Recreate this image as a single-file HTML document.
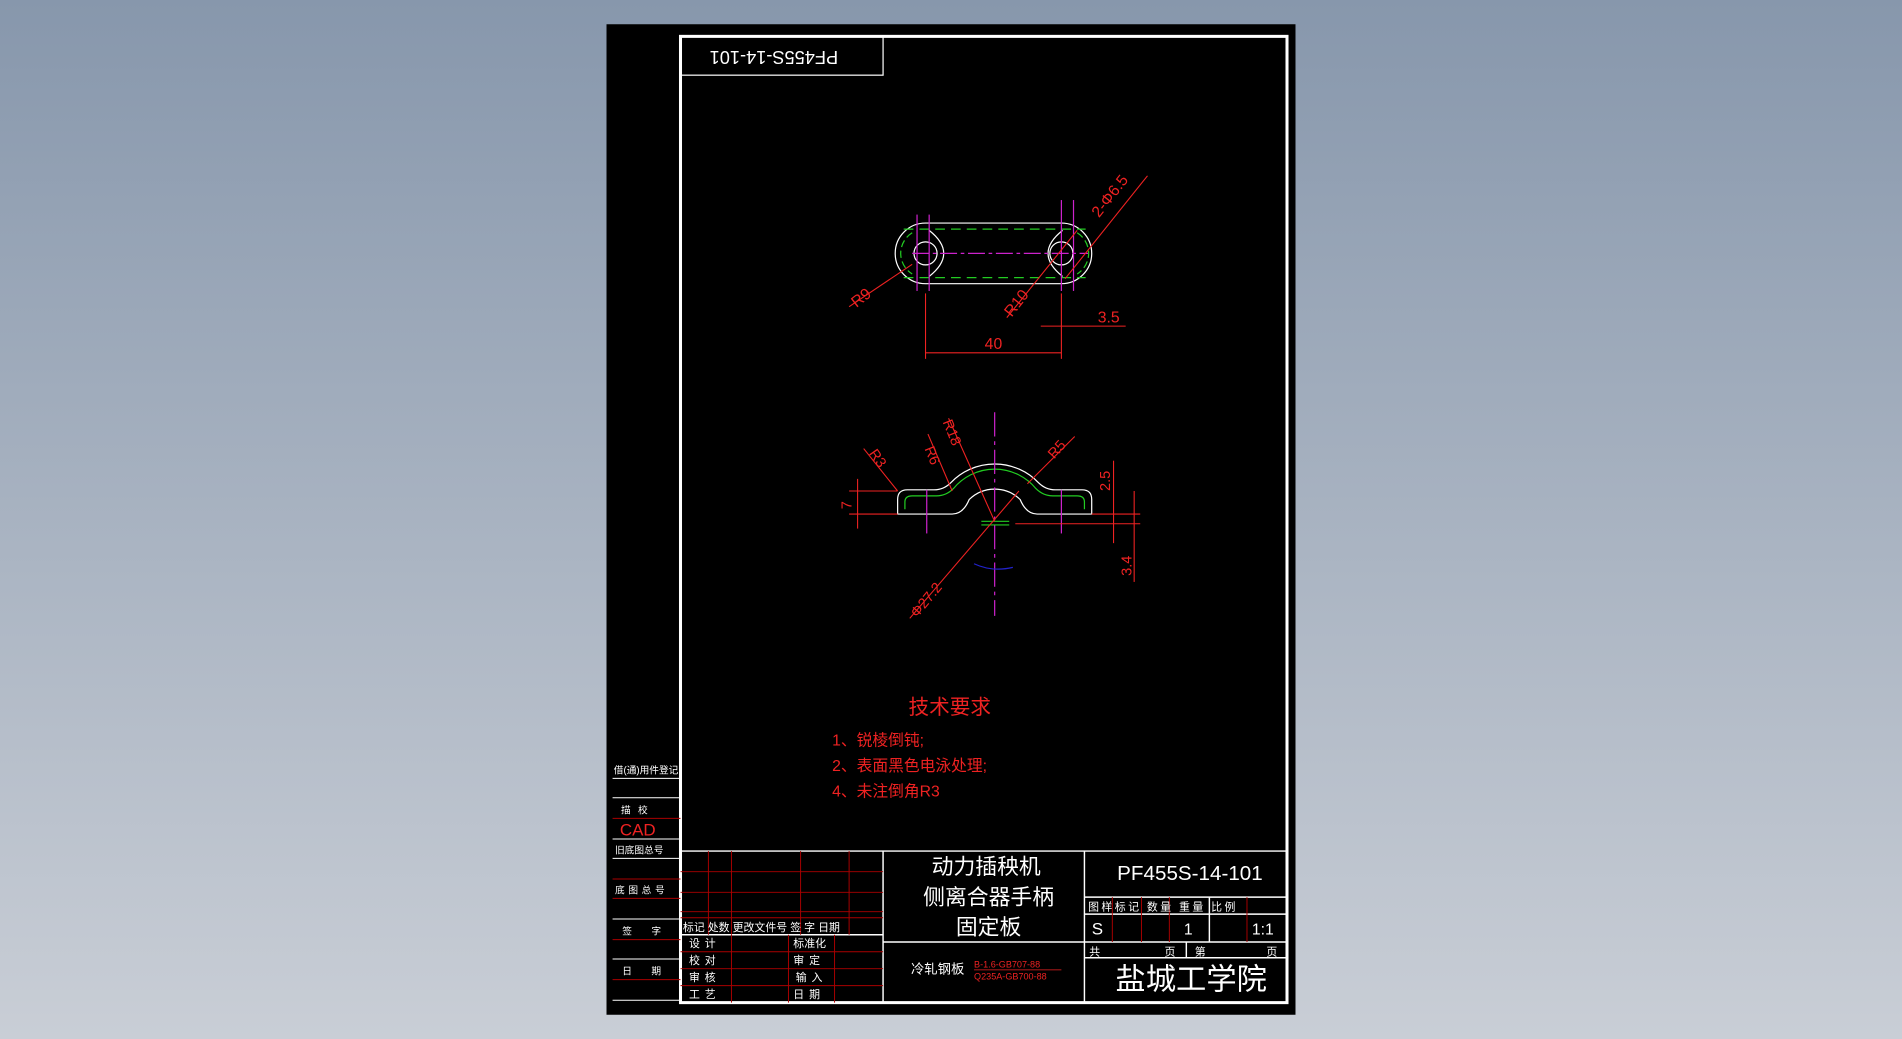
<!DOCTYPE html>
<html><head><meta charset="utf-8"><style>
html,body{margin:0;padding:0;width:1902px;height:1039px;overflow:hidden;background:linear-gradient(#8797ac,#c9ced6);}
svg{display:block}
text{font-family:"Liberation Sans","Noto Sans CJK SC",sans-serif;}
</style></head><body>
<svg width="1902" height="1039" viewBox="0 0 1568 857" preserveAspectRatio="none" xmlns="http://www.w3.org/2000/svg">
<rect x="500" y="20" width="568" height="817" fill="#000"/>
<rect x="561" y="30" width="500" height="797" fill="none" stroke="#fff" stroke-width="2.5"/>
<!-- top-left mirrored box -->
<rect x="561" y="30" width="167" height="32" fill="none" stroke="#fff" stroke-width="1"/>
<text x="0" y="0" transform="translate(638,46) rotate(180)" fill="#fff" font-size="15" text-anchor="middle" dominant-baseline="middle" font-family="Liberation Mono,monospace">PF455S-14-101</text>

<!-- left strip -->
<g stroke="#fff" stroke-width="0.8">
<line x1="505" y1="642" x2="561" y2="642"/><line x1="505" y1="658" x2="561" y2="658"/>
<line x1="505" y1="692" x2="561" y2="692"/><line x1="505" y1="708" x2="561" y2="708"/>
<line x1="505" y1="758" x2="561" y2="758"/><line x1="505" y1="791" x2="561" y2="791"/>
<line x1="505" y1="825" x2="561" y2="825"/>
</g>
<g stroke="#a00" stroke-width="0.8">
<line x1="505" y1="675" x2="561" y2="675"/><line x1="505" y1="725" x2="561" y2="725"/>
<line x1="505" y1="741" x2="561" y2="741"/><line x1="505" y1="775" x2="561" y2="775"/>
<line x1="505" y1="808" x2="561" y2="808"/>
</g>
<g fill="#fff" font-size="8">
<text x="506" y="638">借(通)用件登记</text>
<text x="512" y="671" letter-spacing="6">描校</text>
<text x="507" y="704">旧底图总号</text>
<text x="507" y="737" letter-spacing="3">底图总号</text>
<text x="513" y="771" letter-spacing="16">签字</text>
<text x="513" y="804" letter-spacing="16">日期</text>
</g>
<text x="511" y="689" fill="#e22" font-size="14" font-family="Liberation Sans,sans-serif">CAD</text>

<!-- title block -->
<g stroke="#fff" stroke-width="1.2" fill="none">
<line x1="561" y1="702" x2="1061" y2="702"/>
<line x1="728" y1="702" x2="728" y2="827"/>
<line x1="894" y1="702" x2="894" y2="827"/>
<line x1="561" y1="771" x2="728" y2="771"/>
<line x1="728" y1="777" x2="894" y2="777"/>
<line x1="894" y1="740" x2="1061" y2="740"/>
<line x1="894" y1="754" x2="1061" y2="754"/>
<line x1="894" y1="777" x2="1061" y2="777"/>
<line x1="894" y1="790" x2="1061" y2="790"/>
<line x1="997" y1="740" x2="997" y2="777"/>
<line x1="978" y1="777" x2="978" y2="790"/>
</g>
<g stroke="#a00" stroke-width="0.8">
<line x1="561" y1="719" x2="728" y2="719"/><line x1="561" y1="736" x2="728" y2="736"/>
<line x1="561" y1="752" x2="728" y2="752"/><line x1="561" y1="757" x2="728" y2="757"/>
<line x1="561" y1="785" x2="728" y2="785"/><line x1="561" y1="799" x2="728" y2="799"/>
<line x1="561" y1="813" x2="728" y2="813"/>
<line x1="584" y1="702" x2="584" y2="771"/><line x1="603" y1="702" x2="603" y2="771"/>
<line x1="660" y1="702" x2="660" y2="771"/><line x1="700" y1="702" x2="700" y2="771"/>
<line x1="603" y1="771" x2="603" y2="827"/><line x1="650" y1="771" x2="650" y2="827"/>
<line x1="688" y1="771" x2="688" y2="827"/>
<line x1="917" y1="740" x2="917" y2="777"/><line x1="941" y1="740" x2="941" y2="777"/>
<line x1="964" y1="740" x2="964" y2="777"/><line x1="1028" y1="740" x2="1028" y2="777"/>
</g>
<g fill="#fff" font-size="9">
<text x="563" y="768">标记 处数 更改文件号  签  字  日期</text>
<text x="568" y="781" letter-spacing="4">设计</text>
<text x="568" y="795" letter-spacing="4">校对</text>
<text x="568" y="809" letter-spacing="4">审核</text>
<text x="568" y="823" letter-spacing="4">工艺</text>
<text x="654" y="781">标准化</text>
<text x="654" y="795" letter-spacing="4">审定</text>
<text x="656" y="809" letter-spacing="4">输入</text>
<text x="654" y="823" letter-spacing="4">日期</text>
<text x="897" y="751" letter-spacing="2">图样标记 数量 重量 比例</text>
<text x="898" y="788">共</text><text x="960" y="788">页</text>
<text x="985" y="788">第</text><text x="1044" y="788">页</text>
</g>
<g fill="#fff" text-anchor="middle">
<text x="813" y="721" font-size="18">动力插秧机</text>
<text x="815" y="746" font-size="18">侧离合器手柄</text>
<text x="815" y="771" font-size="18">固定板</text>
<text x="981" y="726" font-size="17" font-family="Liberation Mono,monospace">PF455S-14-101</text>
<text x="982" y="816" font-size="25">盐城工学院</text>
</g>
<text x="900" y="771" fill="#fff" font-size="14" font-family="Liberation Mono,monospace">S</text>
<text x="976" y="771" fill="#fff" font-size="13" font-family="Liberation Mono,monospace">1</text>
<text x="1032" y="771" fill="#fff" font-size="13" font-family="Liberation Mono,monospace">1:1</text>
<text x="751" y="803" fill="#fff" font-size="11">冷轧钢板</text>
<text x="803" y="798" fill="#e22" font-size="7.5" font-family="Liberation Mono,monospace">B-1.6-GB707-88</text>
<line x1="803" y1="800" x2="875" y2="800" stroke="#e22" stroke-width="0.6"/>
<text x="803" y="808" fill="#e22" font-size="7.5" font-family="Liberation Mono,monospace">Q235A-GB700-88</text>

<!-- tech requirements -->
<text x="783" y="589" fill="#e22" font-size="17" text-anchor="middle">技术要求</text>
<g fill="#e22" font-size="13">
<text x="686" y="615">1、锐棱倒钝;</text>
<text x="686" y="636">2、表面黑色电泳处理;</text>
<text x="686" y="657">4、未注倒角R3</text>
</g>

<!-- top view -->
<g fill="none" stroke-width="1">
<path d="M763,184 L875,184 A25,25 0 0 1 875,234 L763,234 A25,25 0 0 1 763,184Z" stroke="#fff"/>
<path d="M745,189 L895,189 M745,229 L895,229" stroke="#2c2" stroke-dasharray="8,5"/>
<path d="M752,192 A20,20 0 0 0 752,226 M888,192 A20,20 0 0 1 888,226" stroke="#2c2" stroke-dasharray="6,3"/>
<path d="M766,190 Q790,209 766,228 M876,190 Q852,209 876,228" stroke="#fff"/>
<circle cx="763" cy="209" r="9.5" stroke="#fff"/>
<circle cx="875" cy="209" r="9.5" stroke="#fff"/>
<g stroke="#c2c">
<line x1="756" y1="177" x2="756" y2="240"/><line x1="766" y1="177" x2="766" y2="240"/>
<line x1="875" y1="165" x2="875" y2="240"/><line x1="885" y1="165" x2="885" y2="240"/>
<line x1="752" y1="209" x2="897" y2="209" stroke-dasharray="14,3,3,3"/>
</g>
<g stroke="#e22" stroke-width="0.9">
<line x1="763" y1="242" x2="763" y2="296"/><line x1="875" y1="242" x2="875" y2="296"/>
<line x1="763" y1="291" x2="875" y2="291"/>
<line x1="858" y1="269" x2="928" y2="269"/>
<line x1="700" y1="253" x2="752" y2="218"/>
<line x1="830" y1="262" x2="888" y2="190"/>
<line x1="878" y1="230" x2="946" y2="145"/>
</g>
</g>
<g fill="#e22" font-size="13">
<text x="819" y="288" text-anchor="middle">40</text>
<text x="905" y="266">3.5</text>
<text transform="translate(706,254) rotate(-38)">R9</text>
<text transform="translate(834,262) rotate(-52)">R10</text>
<text transform="translate(906,180) rotate(-52)">2-Φ6.5</text>
</g>

<!-- side view -->
<g fill="none" stroke-width="1">
<path d="M740,424 L740,412 Q740,404 748,404 L770,404 Q778,404 784,398 A50,50 0 0 1 856,398 Q862,404 870,404 L892,404 Q900,404 900,412 L900,424 L855,424 Q846,424 841,412 A30,30 0 0 0 799,412 Q794,424 785,424 Z" stroke="#fff"/>
<path d="M746,420 L746,414 Q746,409 752,409 L772,409 Q780,409 786,403 A44,44 0 0 1 854,403 Q860,409 868,409 L888,409 Q894,409 894,414 L894,420" stroke="#2c2"/>
<g stroke="#c2c">
<line x1="820" y1="340" x2="820" y2="508" stroke-dasharray="20,4,3,4"/>
<line x1="764" y1="404" x2="764" y2="440"/><line x1="875" y1="404" x2="875" y2="440"/>
</g>
<g stroke="#2c2"><line x1="809" y1="430" x2="832" y2="430"/><line x1="809" y1="433" x2="832" y2="433"/></g>
<path d="M803,465 Q818,472 835,468" stroke="#22c"/>
<g stroke="#e22" stroke-width="0.9">
<line x1="700" y1="405" x2="740" y2="405"/><line x1="700" y1="424" x2="740" y2="424"/>
<line x1="707" y1="395" x2="707" y2="436"/>
<line x1="837" y1="432" x2="940" y2="432"/><line x1="900" y1="424" x2="940" y2="424"/>
<line x1="918" y1="380" x2="918" y2="448"/><line x1="935" y1="405" x2="935" y2="480"/>
<line x1="712" y1="370" x2="740" y2="405"/>
<line x1="765" y1="358" x2="785" y2="405"/>
<line x1="782" y1="345" x2="820" y2="430"/>
<line x1="886" y1="360" x2="847" y2="399"/>
<line x1="750" y1="510" x2="840" y2="405"/>
</g>
</g>
<g fill="#e22" font-size="12">
<text transform="translate(702,420) rotate(-90)">7</text>
<text transform="translate(915,405) rotate(-90)">2.5</text>
<text transform="translate(933,475) rotate(-90)">3.4</text>
<text transform="translate(716,374) rotate(55)">R3</text>
<text transform="translate(762,370) rotate(68)">R6</text>
<text transform="translate(777,348) rotate(68)">R18</text>
<text transform="translate(869,379) rotate(-48)">R5</text>
<text transform="translate(756,510) rotate(-50)">Φ27.2</text>
</g>
</svg>
</body></html>
